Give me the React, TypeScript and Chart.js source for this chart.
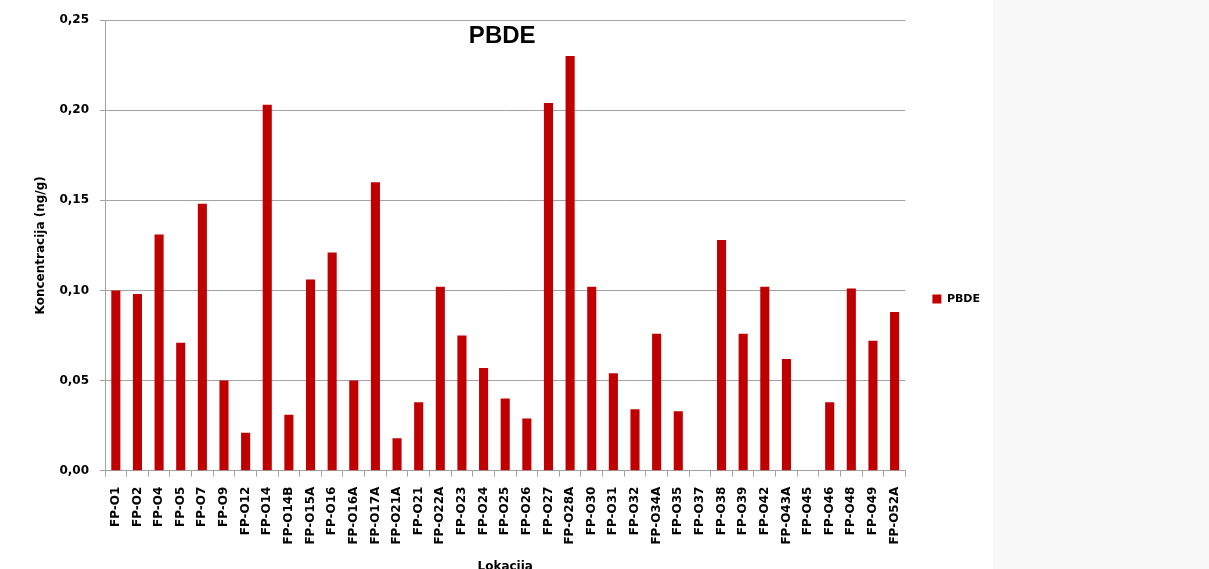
import React, { useEffect, useRef } from "react";
import { Chart, registerables } from "chart.js";

Chart.register(...registerables);

const categories = [
  "FP-O1", "FP-O2", "FP-O4", "FP-O5", "FP-O7", "FP-O9", "FP-O12", "FP-O14", "FP-O14B",
  "FP-O15A", "FP-O16", "FP-O16A", "FP-O17A", "FP-O21A", "FP-O21", "FP-O22A", "FP-O23",
  "FP-O24", "FP-O25", "FP-O26", "FP-O27", "FP-O28A", "FP-O30", "FP-O31", "FP-O32",
  "FP-O34A", "FP-O35", "FP-O37", "FP-O38", "FP-O39", "FP-O42", "FP-O43A", "FP-O45",
  "FP-O46", "FP-O48", "FP-O49", "FP-O52A",
];

const pbdeValues = [
  0.100, 0.098, 0.131, 0.071, 0.148, 0.050, 0.021, 0.203, 0.031,
  0.106, 0.121, 0.050, 0.160, 0.018, 0.038, 0.102, 0.075,
  0.057, 0.040, 0.029, 0.204, 0.230, 0.102, 0.054, 0.034,
  0.076, 0.033, 0, 0.128, 0.076, 0.102, 0.062, 0,
  0.038, 0.101, 0.072, 0.088,
];

const seriesName = "PBDE";
const chartTitle = "PBDE";
const yTitle = "Koncentracija (ng/g)";
const xTitle = "Lokacija";

const FONT = "'DejaVu Sans', sans-serif";
const GRID = "#a3a3a3";

const innerTitle = {
  id: "innerTitle",
  afterDraw(chart: any) {
    const { ctx, chartArea } = chart;
    ctx.save();
    ctx.font = "bold 24px 'Liberation Sans', Arial, sans-serif";
    ctx.fillStyle = "#000";
    ctx.textAlign = "center";
    ctx.textBaseline = "middle";
    ctx.fillText(chartTitle, (chartArea.left + chartArea.right) / 2 - 3, chartArea.top + 16);
    ctx.restore();
  },
};

export default function App() {
  const ref = useRef<HTMLCanvasElement | null>(null);

  useEffect(() => {
    if (!ref.current) return;
    const chart = new Chart(ref.current, {
      type: "bar",
      data: {
        labels: categories,
        datasets: [
          {
            label: seriesName,
            data: pbdeValues,
            backgroundColor: "#c00000",
            borderWidth: 0,
            categoryPercentage: 1,
            barPercentage: 0.42,
          },
        ],
      },
      options: {
        responsive: false,
        animation: false,
        layout: { padding: { left: 24, top: 20, right: 0, bottom: 0 } },
        plugins: {
          tooltip: { enabled: false },
          title: { display: false },
          legend: {
            position: "right",
            align: "center",
            labels: {
              boxWidth: 9,
              boxHeight: 9,
              padding: 27,
              color: "#000",
              font: { family: FONT, size: 11, weight: "bold" },
            },
          },
        },
        scales: {
          x: {
            grid: {
              display: true,
              drawOnChartArea: false,
              drawTicks: true,
              tickLength: 6,
              color: GRID,
              offset: true,
            },
            border: { display: true, color: GRID },
            ticks: {
              autoSkip: false,
              maxRotation: 90,
              minRotation: 90,
              padding: 10,
              color: "#000",
              font: { family: FONT, size: 12, weight: "bold" },
            },
            title: {
              display: true,
              text: xTitle,
              color: "#000",
              font: { family: FONT, size: 12, weight: "bold" },
              padding: { top: 5, bottom: 4 },
            },
          },
          y: {
            min: 0,
            max: 0.25,
            grid: { color: GRID, tickLength: 5, drawTicks: true },
            border: { display: true, color: GRID },
            ticks: {
              stepSize: 0.05,
              padding: 11,
              color: "#000",
              font: { family: FONT, size: 12, weight: "bold" },
              callback: (v: any) => Number(v).toFixed(2).replace(".", ","),
            },
            title: {
              display: true,
              text: yTitle,
              color: "#000",
              font: { family: FONT, size: 12, weight: "bold" },
              padding: { top: 10, bottom: 0 },
            },
          },
        },
      },
      plugins: [innerTitle],
    });
    return () => chart.destroy();
  }, []);

  return (
    <div
      style={{
        position: "absolute",
        left: 0,
        top: 0,
        width: 1209,
        height: 569,
        overflow: "hidden",
        background: "#ffffff",
      }}
    >
      <div
        style={{
          position: "absolute",
          left: 993,
          top: 0,
          width: 216,
          height: 569,
          background: "#f8f8f8",
        }}
      />
      <canvas
        ref={ref}
        width={990}
        height={578}
        style={{ position: "absolute", left: 0, top: 0, width: 990, height: 578 }}
      />
    </div>
  );
}
